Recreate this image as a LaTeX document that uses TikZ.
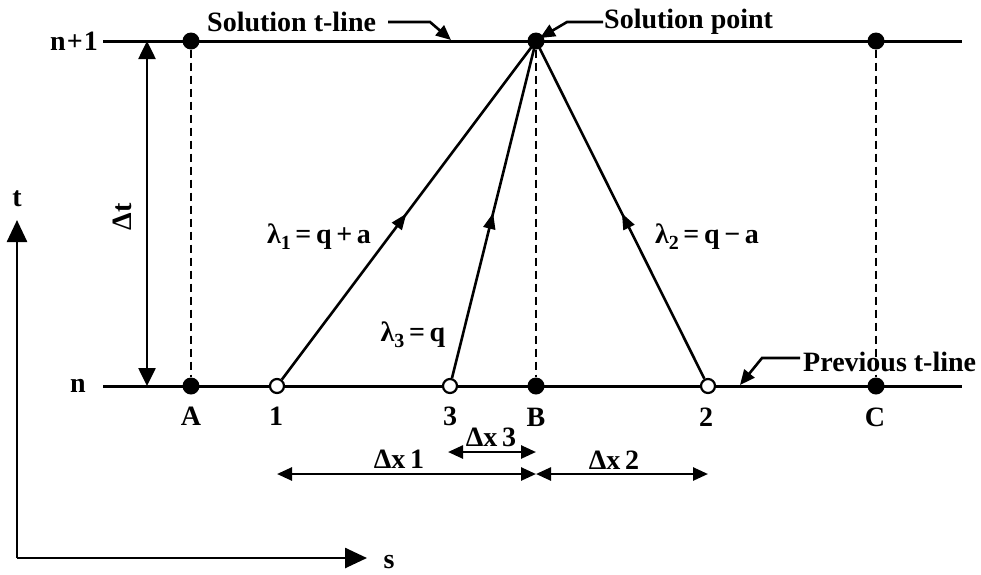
\documentclass[tikz,border=0pt]{standalone}
\usepackage{fontspec}
\setmainfont{Liberation Serif}
\usetikzlibrary{arrows.meta,decorations.markings}
\begin{document}
\begin{tikzpicture}[x=1pt,y=-1pt,
  lbl/.style={font=\fontsize{28}{30}\selectfont\bfseries, inner sep=0pt},
  tline/.style={line width=3pt},
  dashline/.style={line width=2.2pt, dash pattern=on 8pt off 5pt},
  dot/.style={circle, fill=black, inner sep=0pt, minimum size=17pt},
  odot/.style={circle, draw=black, fill=white, line width=2.2pt, inner sep=0pt, minimum size=14pt},
  charline/.style={line width=2.6pt, postaction={decorate},
    decoration={markings, mark=at position 0.49 with {\arrow{Triangle[length=16pt,width=12pt]}}}},
  pointer/.style={line width=2.6pt, -{Triangle[length=15pt,width=13pt]}},
  dimarrow/.style={line width=2.6pt, {Triangle[length=15pt,width=13pt]}-{Triangle[length=15pt,width=13pt]}},
  axis/.style={line width=2.6pt, -{Triangle[length=22pt,width=20pt]}},
]
\useasboundingbox (0,0) rectangle (981,574);
% time lines
\coordinate (topL) at (103,41);
\coordinate (topR) at (962,41);
\coordinate (botL) at (103,386);
\coordinate (botR) at (962,386);
\draw[tline] (topL) -- (topR);
\draw[tline] (botL) -- (botR);
% points
\node[dot] (At) at (191,41) {};
\node[dot] (Bt) at (536,41) {};
\node[dot] (Ct) at (876,41) {};
\node[dot] (Ab) at (191,386) {};
\node[dot] (Bb) at (536,386) {};
\node[dot] (Cb) at (876,386) {};
\node[odot] (o1) at (277,386) {};
\node[odot] (o3) at (450,386) {};
\node[odot] (o2) at (708,386) {};
% dashed verticals
\draw[dashline] (At) -- (Ab);
\draw[dashline] (Bt) -- (Bb);
\draw[dashline] (Ct) -- (Cb);
% characteristics
\draw[charline] (o1) -- (Bt.center);
\draw[charline] (o3) -- (Bt.center);
\draw[charline] (o2) -- (Bt.center);
% level labels
\node[lbl] (lnp) at (74,41) {n\kern1pt+\kern1pt1};
\node[lbl] (ln) at (78,386) {n};
% delta t
\coordinate (dtT) at (147,41);
\coordinate (dtB) at (147,386);
\draw[line width=2.6pt, {Triangle[length=18pt,width=17pt]}-{Triangle[length=18pt,width=17pt]}] (dtT) -- (dtB);
\node[lbl, rotate=90] (dt) at (122,217) {Δt};
% point labels
\node[lbl] (lA) at (191,416) {A};
\node[lbl] (l1) at (276,416) {1};
\node[lbl] (l3) at (450,416) {3};
\node[lbl] (lB) at (536,417) {B};
\node[lbl] (l2) at (706,417) {2};
\node[lbl] (lC) at (875,417) {C};
% lambda labels
\node[lbl] (lam1) at (319,237) {λ\raisebox{-0.4ex}{\fontsize{20}{20}\selectfont 1}\,=\,q\,+\,a};
\node[lbl] (lam2) at (707,237) {λ\raisebox{-0.4ex}{\fontsize{20}{20}\selectfont 2}\,=\,q\,−\,a};
\node[lbl] (lam3) at (413,335) {λ\raisebox{-0.4ex}{\fontsize{20}{20}\selectfont 3}\,=\,q};
% delta x arrows
\coordinate (x3L) at (448,452);
\coordinate (x3R) at (536,452);
\coordinate (x1L) at (277,474);
\coordinate (x1R) at (536,474);
\coordinate (x2L) at (536,474);
\coordinate (x2R) at (708,474);
\draw[dimarrow] (x3L) -- (x3R);
\draw[dimarrow] (x1L) -- (x1R);
\draw[dimarrow] (x2L) -- (x2R);
\node[lbl] (dx3) at (491,437) {Δx\,3};
\node[lbl] (dx1) at (399,459) {Δx\,1};
\node[lbl] (dx2) at (614,460) {Δx\,2};
% callouts
\node[lbl, anchor=west] (stl) at (207,22) {Solution t-line};
\coordinate (p1a) at (388,22);
\coordinate (p1b) at (430,22);
\coordinate (p1c) at (451,40);
\draw[pointer] (p1a) -- (p1b) -- (p1c);
\node[lbl, anchor=west] (sp) at (604,22) {Solution point};
\coordinate (p2a) at (603,22);
\coordinate (p2b) at (567,22);
\coordinate (p2c) at (540,38);
\draw[pointer] (p2a) -- (p2b) -- (p2c);
\node[lbl, anchor=west] (ptl) at (803,362) {Previous t-line};
\coordinate (p3a) at (800,358);
\coordinate (p3b) at (762,358);
\coordinate (p3c) at (740,385);
\draw[pointer] (p3a) -- (p3b) -- (p3c);
% axes
\coordinate (org) at (17,558);
\coordinate (tax) at (17,220);
\coordinate (sax) at (367,558);
\draw[axis] (org) -- (tax);
\draw[axis] (org) -- (sax);
\node[lbl] (lt) at (17,199) {t};
\node[lbl] (ls) at (389,562) {s};
\end{tikzpicture}
\end{document}
